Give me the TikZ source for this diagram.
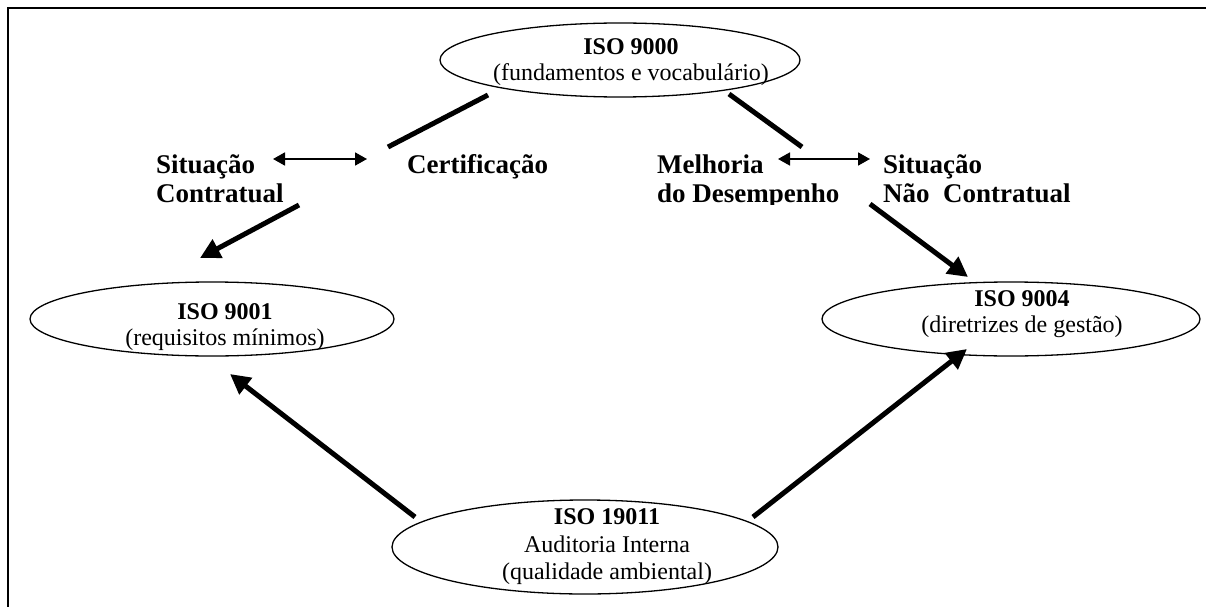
\documentclass[tikz,border=0pt]{standalone}
\usepackage{fontspec}
\setmainfont{Liberation Serif}
\usetikzlibrary{arrows.meta,shapes.geometric}
\begin{document}
\begin{tikzpicture}[x=1pt,y=-1pt,
  ell/.style={draw, ellipse, line width=1.3pt, inner sep=0pt},
  etxt/.style={align=center, inner sep=0pt, font=\fontsize{24}{26.5}\selectfont},
  lbl/.style={anchor=base west, inner sep=0pt, font=\fontsize{27}{29}\selectfont\bfseries},
  heavy/.style={line width=5pt},
  heavyarrow/.style={line width=5pt, -{Triangle[length=20pt,width=20pt]}},
  twoway/.style={line width=1.8pt, {Triangle[length=12pt,width=13pt]}-{Triangle[length=12pt,width=13pt]}}]

\useasboundingbox (0,0) rectangle (1206,607);

% frame along the top and left edges
\draw[line width=2.7pt] (1206,8) -- (8,8) -- (8,607);

% ellipses and their texts
\node[ell, minimum width=360pt, minimum height=74pt] (e9000) at (620,60) {};
\node[etxt] (t9000) at (631,62) {\textbf{ISO 9000}\\(fundamentos e vocabulário)};

\node[ell, minimum width=364pt, minimum height=74pt] (e9001) at (212,319) {};
\node[etxt] (t9001) at (225,327) {\textbf{ISO 9001}\\(requisitos mínimos)};

\node[ell, minimum width=378pt, minimum height=74pt] (e9004) at (1011,319) {};
\node[etxt] (t9004) at (1022,314) {\textbf{ISO 9004}\\(diretrizes de gestão)};

\node[ell, minimum width=386pt, minimum height=94pt] (e19011) at (585,547) {};
\node[etxt, font=\fontsize{24}{27.5}\selectfont] (t19011) at (607,547)
  {\textbf{ISO 19011}\\Auditoria Interna\\(qualidade ambiental)};

% bold labels, cut off just below the second line
\begin{scope}
\clip (0,0) rectangle (1206,204);
\node[lbl] (sit1) at (156,173) {Situação};
\node[lbl] (con1) at (156,202) {Contratual};
\node[lbl] (cert) at (407,173) {Certificação};
\node[lbl] (melh) at (657,173) {Melhoria};
\node[lbl] (dese) at (657,202) {do Desempenho};
\node[lbl] (sit2) at (883,173) {Situação};
\node[lbl] (con2) at (883,202) {Não\ \ Contratual};
\end{scope}

% connector end points
\coordinate (l1a) at (488,95);  \coordinate (l1b) at (388,147);
\coordinate (l2a) at (299,205); \coordinate (l2b) at (200,258);
\coordinate (r1a) at (729,94);  \coordinate (r1b) at (802,147);
\coordinate (r2a) at (870,204); \coordinate (r2b) at (968,277);
\coordinate (b1a) at (415,517); \coordinate (b1b) at (230,374);
\coordinate (b2a) at (753,517); \coordinate (b2b) at (967,349);
\coordinate (d1a) at (273,159); \coordinate (d1b) at (367,159);
\coordinate (d2a) at (778,159); \coordinate (d2b) at (870,159);

% connectors
\draw[heavy] (l1a) -- (l1b);
\draw[heavyarrow] (l2a) -- (l2b);
\draw[heavy] (r1a) -- (r1b);
\draw[heavyarrow] (r2a) -- (r2b);
\draw[heavyarrow] (b1a) -- (b1b);
\draw[heavyarrow] (b2a) -- (b2b);
\draw[twoway] (d1a) -- (d1b);
\draw[twoway] (d2a) -- (d2b);
\end{tikzpicture}
\end{document}
